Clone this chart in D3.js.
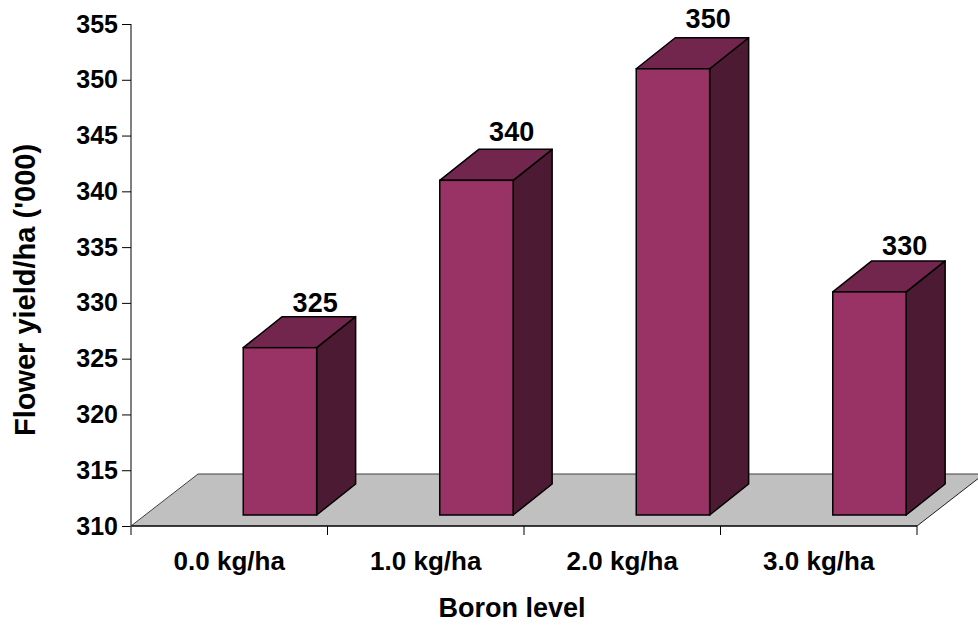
<!DOCTYPE html>
<html>
<head>
<meta charset="utf-8">
<script src="https://cdn.jsdelivr.net/npm/d3@7"></script>
<style>
  html, body { margin: 0; padding: 0; background: #fff; }
  svg { display: block; font-family: "Liberation Sans", Arial, sans-serif; font-weight: bold; }
</style>
</head>
<body>
<svg id="chart" width="978" height="627"></svg>
<script>
// Data
const categories = ["0.0 kg/ha", "1.0 kg/ha", "2.0 kg/ha", "3.0 kg/ha"];
const yieldValues = [325, 340, 350, 330];
const yTicks = [310, 315, 320, 325, 330, 335, 340, 345, 350, 355];
const yTitle = "Flower yield/ha ('000)";
const xTitle = "Boron level";

const svg = d3.select("#chart");

// Plot frame (front plane of the floor)
const plotLeft = 131, plotRight = 917, plotTop = 24, plotBottom = 526;
const floorDX = 67, floorDY = 52;     // depth of the floor
const barZ0 = { dx: 14, dy: 11 };      // bar front plane offset into the floor
const barDX = 39, barDY = 31;          // bar depth

const y = d3.scaleLinear().domain([310, 355]).range([plotBottom, plotTop]);
const x = d3.scaleBand().domain(categories).range([plotLeft, plotRight]).padding(0);
const bw = x.bandwidth();

const colors = {
  front: "#993366",
  top: "#73264d",
  side: "#4d1a33",
  floor: "#c0c0c0"
};

// Floor
const floorPts = [
  [plotLeft, plotBottom], [plotLeft + floorDX, plotBottom - floorDY],
  [plotRight + floorDX, plotBottom - floorDY], [plotRight, plotBottom]
];
svg.append("polygon")
  .attr("points", floorPts.map(p => p.join(",")).join(" "))
  .attr("fill", colors.floor)
  .attr("stroke", "none");
// floor edges
svg.append("path")
  .attr("d", `M${plotLeft},${plotBottom}L${plotLeft + floorDX},${plotBottom - floorDY}L${plotRight + floorDX},${plotBottom - floorDY}`)
  .attr("fill", "none").attr("stroke", "#404040").attr("stroke-width", 1);
svg.append("path")
  .attr("d", `M${plotRight},${plotBottom}L${plotRight + floorDX},${plotBottom - floorDY}`)
  .attr("fill", "none").attr("stroke", "#202020").attr("stroke-width", 1);

// Y axis
const yAxis = d3.axisLeft(y).tickValues(yTicks).tickSize(9).tickPadding(4).tickFormat(d3.format("d"));
const gy = svg.append("g").attr("transform", `translate(${plotLeft},0)`).call(yAxis);
gy.select(".domain").attr("stroke", "#808080").attr("stroke-width", 2)
  .attr("d", `M0,${plotTop}V${plotBottom + 9}`);
gy.selectAll(".tick line").attr("stroke", "#000").attr("stroke-width", 1);
gy.selectAll(".tick text").attr("fill", "#000")
  .style("font-size", "25px").style("font-weight", "bold")
  .style("font-family", "'Liberation Sans', Arial, sans-serif");

// X axis (front edge of the floor)
const xAxis = d3.axisBottom(x).tickSize(0).tickPadding(26);
const gx = svg.append("g").attr("transform", `translate(0,${plotBottom})`).call(xAxis);
gx.select(".domain").attr("stroke", "#000").attr("stroke-width", 1.5)
  .attr("d", `M${plotLeft},0H${plotRight}`);
gx.selectAll(".tick text").attr("fill", "#000")
  .style("font-size", "26px").style("font-weight", "bold")
  .style("font-family", "'Liberation Sans', Arial, sans-serif");
// category separators
const sepX = categories.map(c => x(c)).concat([plotRight]);
gx.selectAll("line.sep").data(sepX).enter().append("line")
  .attr("class", "sep")
  .attr("x1", d => d).attr("x2", d => d)
  .attr("y1", 0).attr("y2", 9)
  .attr("stroke", (d, i) => i === 0 ? "#808080" : "#000").attr("stroke-width", 1);

// Bars (3D columns)
const bars = categories.map((c, i) => {
  const x0 = x(c) + bw / 2 + barZ0.dx;
  const w = bw * 0.3735;
  const yb = y(310) - barZ0.dy;
  const yt = y(yieldValues[i]) - barZ0.dy;
  return { c, v: yieldValues[i], x0, x1: x0 + w, yb, yt };
});

const gb = svg.append("g");
bars.forEach(b => {
  const g = gb.append("g");
  // side face
  g.append("polygon")
    .attr("points", [[b.x1, b.yt], [b.x1 + barDX, b.yt - barDY], [b.x1 + barDX, b.yb - barDY], [b.x1, b.yb]]
      .map(p => p.join(",")).join(" "))
    .attr("fill", colors.side).attr("stroke", "#000").attr("stroke-width", 1.5).attr("stroke-linejoin", "round");
  // top face
  g.append("polygon")
    .attr("points", [[b.x0, b.yt], [b.x0 + barDX, b.yt - barDY], [b.x1 + barDX, b.yt - barDY], [b.x1, b.yt]]
      .map(p => p.join(",")).join(" "))
    .attr("fill", colors.top).attr("stroke", "#000").attr("stroke-width", 1.5).attr("stroke-linejoin", "round");
  // front face
  g.append("rect")
    .attr("x", b.x0).attr("y", b.yt)
    .attr("width", b.x1 - b.x0).attr("height", b.yb - b.yt)
    .attr("fill", colors.front).attr("stroke", "#000").attr("stroke-width", 1.5);
});

// Value labels above each column
gb.selectAll("text.val").data(bars).enter().append("text")
  .attr("class", "val")
  .attr("x", d => d.x1 - 1.5)
  .attr("y", d => y(d.v) - barZ0.dy - barDY - 0.22 * (d.v - 310) - 1.4)
  .attr("text-anchor", "middle")
  .style("font-size", "27px")
  .attr("fill", "#000")
  .text(d => d.v);

// Axis titles
svg.append("text")
  .attr("transform", `translate(35,290) rotate(-90)`)
  .attr("text-anchor", "middle")
  .style("font-size", "29px")
  .attr("fill", "#000")
  .text(yTitle);

svg.append("text")
  .attr("x", 512).attr("y", 617)
  .attr("text-anchor", "middle")
  .style("font-size", "27px")
  .attr("fill", "#000")
  .text(xTitle);
</script>
</body>
</html>
